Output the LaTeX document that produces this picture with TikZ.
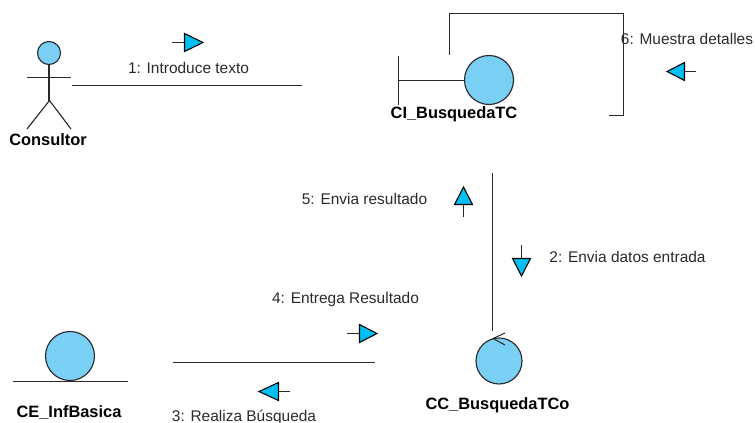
\documentclass[tikz,border=0pt]{standalone}
\usepackage{fontspec}
\setmainfont{Liberation Sans}
\definecolor{objblue}{HTML}{7ACFF5}
\definecolor{msgblue}{HTML}{00BFF3}
\definecolor{ink}{HTML}{2A2A2A}
\tikzset{
  objshape/.style={circle,draw=ink,fill=objblue,line width=0.85pt,inner sep=0pt},
  linkline/.style={draw=ink,line width=0.85pt},
  thinline/.style={draw=ink,line width=0.75pt},
  tipshape/.style={draw=black,fill=msgblue,line width=0.8pt,line join=miter},
  msgtext/.style={font=\fontsize{11.6}{14}\selectfont,text=ink,inner sep=0pt,anchor=center},
  objname/.style={font=\fontsize{12.3}{14}\selectfont\bfseries,text=black,inner sep=0pt,anchor=center}
}
\begin{document}
\begin{tikzpicture}[x=0.75pt,y=-0.75pt]
\useasboundingbox (0,0) rectangle (755,423);
% messages first, so that the loop passes over the label 6
\node[msgtext] (m6) at (687,39) {6: Muestra detalles};
% actor
\node[objshape,minimum size=17.25pt] (head) at (49,53) {};
\coordinate (hip) at (49.5,100.5);
\coordinate (armL) at (27,77.5);
\coordinate (armR) at (71,77.5);
\coordinate (legL) at (27,129);
\coordinate (legR) at (71,129);
\draw[linkline] (head.south) -- (head.south |- hip) -- (hip);
\draw[linkline] (armL) -- (armR);
\draw[linkline] (legL) -- (hip) -- (legR);
\node[objname] (consultor) at (48,140) {Consultor};
% link 1
\coordinate (l1a) at (72,85.5);
\coordinate (l1b) at (302,85.5);
\draw[linkline] (l1a) -- (l1b);
\node[msgtext] (m1) at (188.5,68) {1: Introduce texto};
\draw[thinline] (172,42.5) -- (184,42.5);
\draw[tipshape] (184.5,33.5) -- (203,42.5) -- (184.5,51.5) -- cycle;
% boundary
\node[objshape,minimum size=36.75pt] (ci) at (489,80) {};
\coordinate (bTop) at (398.5,56);
\coordinate (bBot) at (398.5,105);
\coordinate (bMid) at (398.5,80.5);
\draw[linkline] (bTop) -- (bBot);
\draw[linkline] (bMid) -- (ci.west |- bMid);
\node[objname] (cilabel) at (454,114.5) {CI\_BusquedaTC};
% self loop
\coordinate (sa) at (449.5,55);
\coordinate (sb) at (449.5,13.5);
\coordinate (sc) at (623.5,13.5);
\coordinate (sd) at (623.5,115.5);
\coordinate (se) at (609,115.5);
\draw[linkline] (sa) -- (sb) -- (sc) -- (sd) -- (se);
\draw[thinline] (696,71.5) -- (684,71.5);
\draw[tipshape] (684.5,62.5) -- (667,71.5) -- (684.5,80.5) -- cycle;
% control
\node[objshape,minimum size=34.5pt] (cc) at (499,361) {};
\node[objname] (cclabel) at (497.5,405) {CC\_BusquedaTCo};
\coordinate (c1) at (505,333);
\coordinate (c2) at (493,338.5);
\coordinate (c3) at (505,345);
\draw[thinline] (c1) -- (c2) -- (c3);
% vertical link
\coordinate (va) at (492.5,173);
\coordinate (vb) at (492.5,331);
\draw[linkline] (va) -- (vb);
\node[msgtext] (m5) at (364.5,199) {5: Envia resultado};
\draw[thinline] (463.5,217) -- (463.5,204);
\draw[tipshape] (454.5,204.5) -- (463.5,187) -- (472.5,204.5) -- cycle;
\node[msgtext] (m2) at (627.5,257) {2: Envia datos entrada};
\draw[thinline] (521.5,245) -- (521.5,258);
\draw[tipshape] (512.5,258.5) -- (521.5,276) -- (530.5,258.5) -- cycle;
% entity
\node[objshape,minimum size=36.75pt] (ce) at (70,356) {};
\coordinate (ea) at (13,381.5);
\coordinate (eb) at (128,381.5);
\draw[linkline] (ea) -- (eb);
\node[objname] (celabel) at (69,413) {CE\_InfBasica};
% link bottom
\coordinate (la) at (173,362.5);
\coordinate (lb) at (375,362.5);
\draw[linkline] (la) -- (lb);
\node[msgtext] (m4) at (345.5,300) {4: Entrega Resultado};
\draw[thinline] (347,333.5) -- (359,333.5);
\draw[tipshape] (359.5,324.5) -- (377,333.5) -- (359.5,342.5) -- cycle;
\node[msgtext] (m3) at (244,417) {3: Realiza Búsqueda};
\draw[thinline] (290,391.5) -- (278,391.5);
\draw[tipshape] (278.5,382.5) -- (259,391.5) -- (278.5,400.5) -- cycle;
\end{tikzpicture}
\end{document}
